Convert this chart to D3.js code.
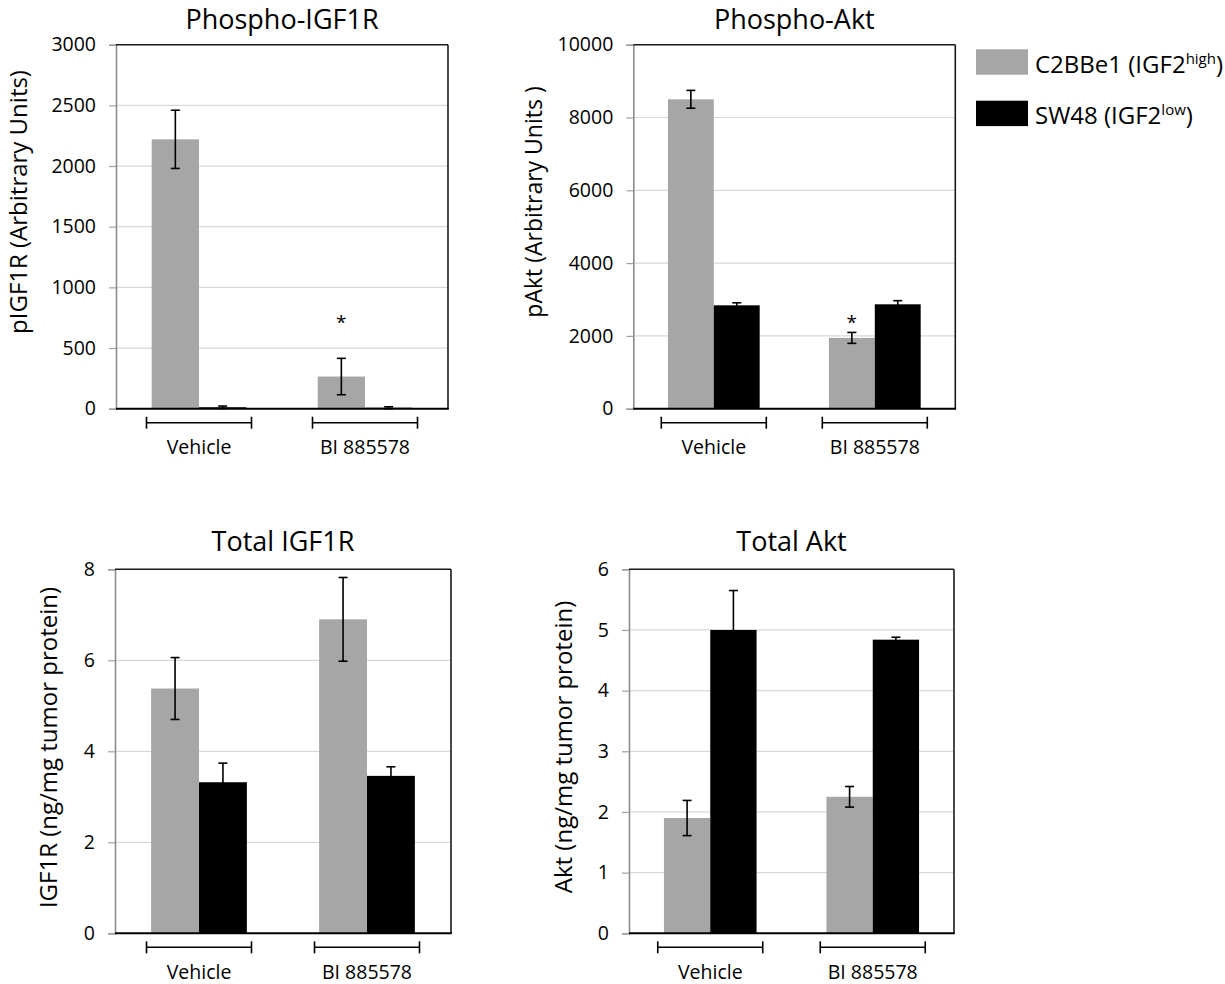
<!DOCTYPE html>
<html>
<head>
<meta charset="utf-8">
<script src="https://cdn.jsdelivr.net/npm/d3@7"></script>
<style>
  body { margin: 0; background: #fff; }
  svg { font-family: 'Open Sans', sans-serif; display: block; }
</style>
</head>
<body>
<div id="chart"></div>
<script>
// categories / series
const groups = ['Vehicle', 'BI 885578']
const series = ['C2BBe1', 'SW48']
const legendMain = ['C2BBe1 (IGF2', 'SW48 (IGF2']
const legendSup = ['high', 'low']

// Phospho-IGF1R
const pIGF1R_C2BBe1 = [2220, 265]
const pIGF1R_C2BBe1_err = [240, 150]
const pIGF1R_SW48 = [12, 8]
const pIGF1R_SW48_err = [10, 8]
const pIGF1R_ticks = [0, 500, 1000, 1500, 2000, 2500, 3000]
const pIGF1R_star = ['BI 885578', 740]

// Phospho-Akt
const pAkt_C2BBe1 = [8500, 1945]
const pAkt_C2BBe1_err = [245, 150]
const pAkt_SW48 = [2840, 2868]
const pAkt_SW48_err = [70, 100]
const pAkt_ticks = [0, 2000, 4000, 6000, 8000, 10000]
const pAkt_star = ['BI 885578', 2460]

// Total IGF1R
const tIGF1R_C2BBe1 = [5.38, 6.90]
const tIGF1R_C2BBe1_err = [0.68, 0.92]
const tIGF1R_SW48 = [3.32, 3.46]
const tIGF1R_SW48_err = [0.42, 0.20]
const tIGF1R_ticks = [0, 2, 4, 6, 8]

// Total Akt
const tAkt_C2BBe1 = [1.90, 2.25]
const tAkt_C2BBe1_err = [0.29, 0.17]
const tAkt_SW48 = [5.00, 4.84]
const tAkt_SW48_err = [0.65, 0.04]
const tAkt_ticks = [0, 1, 2, 3, 4, 5, 6]

const width = 1225
const height = 984
const colors = d3.scaleOrdinal().domain(series).range(['#a6a6a6', '#000000'])

const svg = d3.select('#chart')
  .append('svg')
  .attr('width', width)
  .attr('height', height)

svg.append('rect').attr('width', width).attr('height', height).attr('fill', '#fff')

const panels = [
  {
    title: 'Phospho-IGF1R', ylabel: 'pIGF1R (Arbitrary Units)',
    means: [pIGF1R_C2BBe1, pIGF1R_SW48], errs: [pIGF1R_C2BBe1_err, pIGF1R_SW48_err],
    ticks: pIGF1R_ticks, star: pIGF1R_star,
    x: 116, y: 44.7, w: 332, h: 364, titleDy: -15.5, labelX: 27, labelY: 202, labelSize: 24
  },
  {
    title: 'Phospho-Akt', ylabel: 'pAkt (Arbitrary Units )',
    means: [pAkt_C2BBe1, pAkt_SW48], errs: [pAkt_C2BBe1_err, pAkt_SW48_err],
    ticks: pAkt_ticks, star: pAkt_star,
    x: 633.3, y: 44.7, w: 322, h: 364, titleDy: -15.5, labelX: 542, labelY: 202, labelSize: 23
  },
  {
    title: 'Total IGF1R', ylabel: 'IGF1R (ng/mg tumor protein)',
    means: [tIGF1R_C2BBe1, tIGF1R_SW48], errs: [tIGF1R_C2BBe1_err, tIGF1R_SW48_err],
    ticks: tIGF1R_ticks, star: null,
    x: 115, y: 569.3, w: 336, h: 364, titleDy: -18.5, labelX: 57, labelY: 747.5, labelSize: 24
  },
  {
    title: 'Total Akt', ylabel: 'Akt (ng/mg tumor protein)',
    means: [tAkt_C2BBe1, tAkt_SW48], errs: [tAkt_C2BBe1_err, tAkt_SW48_err],
    ticks: tAkt_ticks, star: null,
    x: 629, y: 569.3, w: 325, h: 364, titleDy: -18.5, labelX: 572, labelY: 747, labelSize: 24
  }
]

panels.forEach(drawPanel)

function drawPanel(p) {
  const g = svg.append('g').attr('transform', `translate(${p.x},${p.y})`)
  const maxV = d3.max(p.ticks)

  const yScale = d3.scaleLinear().domain([0, maxV]).range([p.h, 0])
  const xScale = d3.scaleBand().domain(groups).range([0, p.w])
  const groupW = xScale.bandwidth() * 0.57
  const xInner = d3.scaleBand().domain(series).range([0, groupW])

  // gridlines
  g.append('g')
    .selectAll('line')
    .data(p.ticks.filter(t => t > 0 && t < maxV))
    .enter()
    .append('line')
    .attr('x1', 0)
    .attr('x2', p.w)
    .attr('y1', d => yScale(d))
    .attr('y2', d => yScale(d))
    .attr('stroke', '#d9d9d9')
    .attr('stroke-width', 1.2)

  // y axis
  const yAxis = d3.axisLeft(yScale)
    .tickValues(p.ticks)
    .tickSize(7)
    .tickPadding(13)
    .tickFormat(d3.format('d'))

  const ax = g.append('g').attr('class', 'axis y-axis').call(yAxis)
  ax.select('.domain').attr('stroke', '#8c8c8c').attr('stroke-width', 1.6)
  ax.selectAll('.tick line').attr('stroke', '#a0a0a0').attr('stroke-width', 1.2)
  ax.selectAll('.tick text')
    .attr('fill', '#000')
    .style('font-size', '19.5px')
    .style('font-family', "'Open Sans', sans-serif")

  // bars
  const rows = groups.flatMap((grp, i) => series.map((s, j) => ({
    grp, s, v: p.means[j][i], e: p.errs[j][i]
  })))
  const barX = d => xScale(d.grp) + (xScale.bandwidth() - groupW) / 2 + xInner(d.s)

  g.selectAll('.bar')
    .data(rows)
    .enter()
    .append('rect')
    .attr('class', 'bar')
    .attr('x', d => barX(d))
    .attr('width', xInner.bandwidth())
    .attr('y', d => yScale(d.v))
    .attr('height', d => p.h - yScale(d.v))
    .attr('fill', d => colors(d.s))

  // plot border (top / right black, bottom axis black)
  g.append('line').attr('x1', 0).attr('x2', p.w).attr('y1', 0).attr('y2', 0)
    .attr('stroke', '#1a1a1a').attr('stroke-width', 1.6)
  g.append('line').attr('x1', p.w).attr('x2', p.w).attr('y1', 0).attr('y2', p.h)
    .attr('stroke', '#1a1a1a').attr('stroke-width', 1.6)
  g.append('line').attr('x1', 0).attr('x2', p.w + 0.8).attr('y1', p.h).attr('y2', p.h)
    .attr('stroke', '#000').attr('stroke-width', 2)

  // error bars
  const eb = g.selectAll('.err')
    .data(rows)
    .enter()
    .append('g')
    .attr('class', 'err')
    .attr('transform', d => `translate(${barX(d) + xInner.bandwidth() / 2},0)`)
  eb.append('line')
    .attr('y1', d => yScale(Math.max(0, d.v - d.e)))
    .attr('y2', d => yScale(d.v + d.e))
    .attr('stroke', '#000').attr('stroke-width', 1.6)
  eb.append('line')
    .attr('x1', -4.5).attr('x2', 4.5)
    .attr('y1', d => yScale(d.v + d.e)).attr('y2', d => yScale(d.v + d.e))
    .attr('stroke', '#000').attr('stroke-width', 1.6)
  eb.append('line')
    .attr('x1', -4.5).attr('x2', 4.5)
    .attr('y1', d => yScale(Math.max(0, d.v - d.e))).attr('y2', d => yScale(Math.max(0, d.v - d.e)))
    .attr('stroke', '#000').attr('stroke-width', 1.6)

  // significance star
  if (p.star) {
    const d = { grp: p.star[0], s: series[0] }
    g.append('text')
      .attr('x', barX(d) + xInner.bandwidth() / 2)
      .attr('y', yScale(p.star[1]) + 10)
      .attr('text-anchor', 'middle')
      .style('font-size', '19px')
      .text('*')
  }

  // group brackets
  const br = g.selectAll('.bracket')
    .data(groups)
    .enter()
    .append('g')
    .attr('class', 'bracket')
    .attr('transform', d => `translate(${xScale(d) + xScale.bandwidth() / 2},${p.h + 14})`)
  br.append('line').attr('x1', -52.5).attr('x2', 52.5).attr('stroke', '#000').attr('stroke-width', 1.6)
  br.append('line').attr('x1', -52.5).attr('x2', -52.5).attr('y1', -6).attr('y2', 6).attr('stroke', '#000').attr('stroke-width', 1.6)
  br.append('line').attr('x1', 52.5).attr('x2', 52.5).attr('y1', -6).attr('y2', 6).attr('stroke', '#000').attr('stroke-width', 1.6)
  br.append('text')
    .attr('y', 45.5 - 14)
    .attr('text-anchor', 'middle')
    .style('font-size', '19.5px')
    .text(d => d)

  // title
  g.append('text')
    .attr('x', p.w / 2)
    .attr('y', p.titleDy)
    .attr('text-anchor', 'middle')
    .style('font-size', '27px')
    .text(p.title)

  // y label
  svg.append('text')
    .attr('transform', `translate(${p.labelX},${p.labelY}) rotate(-90)`)
    .attr('text-anchor', 'middle')
    .style('font-size', p.labelSize + 'px')
    .text(p.ylabel)
}

// legend
const legend = svg.append('g').attr('class', 'legend')
  .selectAll('g')
  .data(series)
  .enter()
  .append('g')
  .attr('transform', (d, i) => `translate(976,${49.3 + i * 51.4})`)

legend.append('rect')
  .attr('width', 52)
  .attr('height', 25.4)
  .attr('fill', d => colors(d))

const lt = legend.append('text')
  .attr('x', 59)
  .attr('y', 23.5)
  .style('font-size', '24px')
lt.append('tspan').text((d, i) => legendMain[i])
lt.append('tspan').attr('dy', -9).style('font-size', '15px').text((d, i) => legendSup[i])
lt.append('tspan').attr('dy', 9).text(')')
</script>
</body>
</html>
